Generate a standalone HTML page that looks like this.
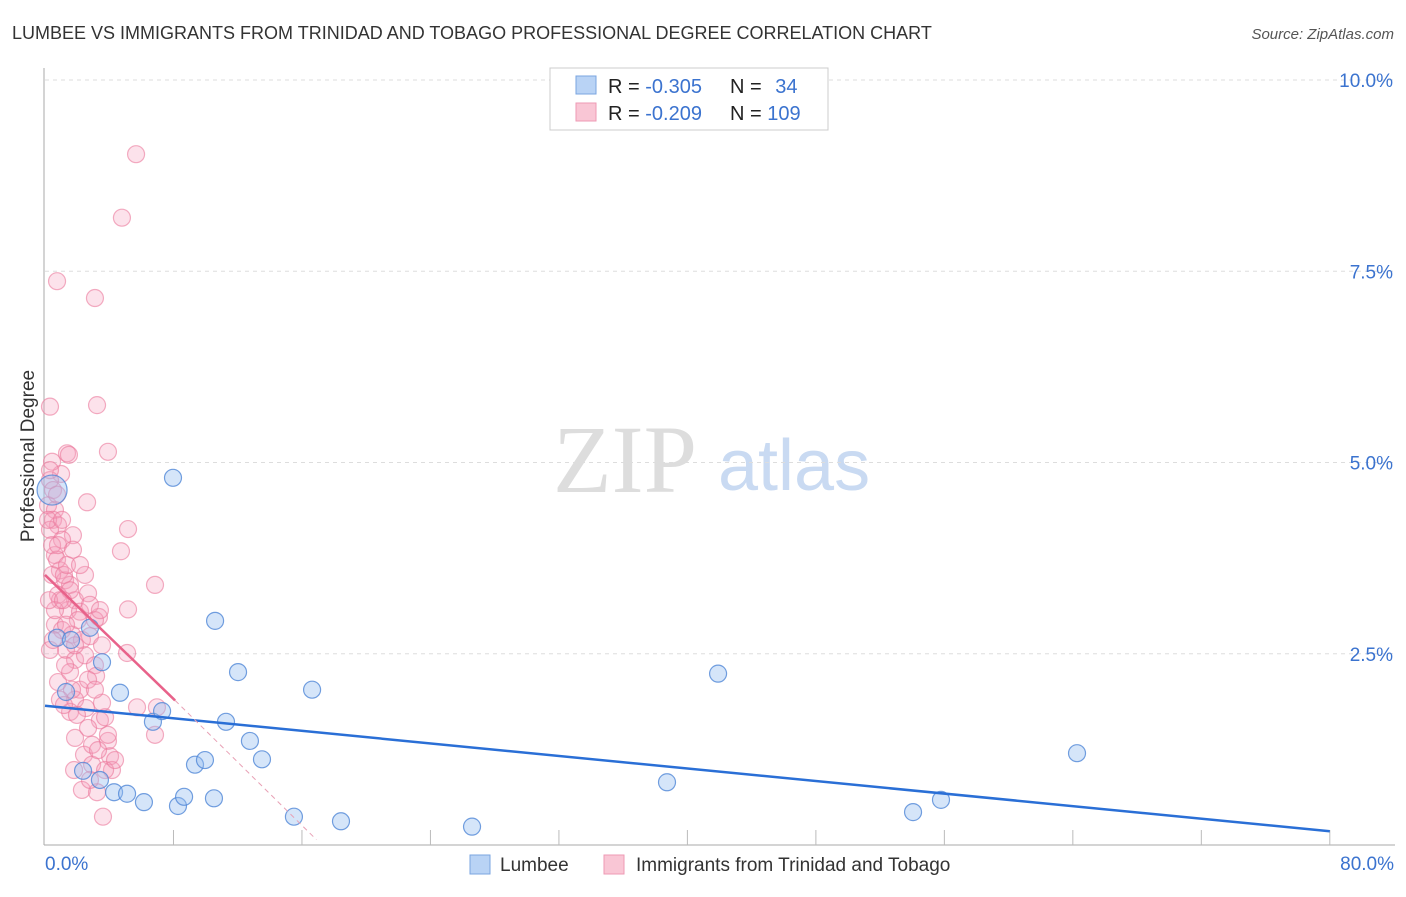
<!DOCTYPE html>
<html><head><meta charset="utf-8"><style>
body{margin:0;background:#fff;font-family:"Liberation Sans",sans-serif;}
</style></head><body>
<svg width="1406" height="892" xmlns="http://www.w3.org/2000/svg" font-family="Liberation Sans, sans-serif">
<text x="12" y="39" font-size="18" fill="#333">LUMBEE VS IMMIGRANTS FROM TRINIDAD AND TOBAGO PROFESSIONAL DEGREE CORRELATION CHART</text>
<text x="1394" y="39" font-size="15" fill="#555" font-style="italic" text-anchor="end">Source: ZipAtlas.com</text>
<g>
<text x="553" y="492" font-size="96" fill="#ddd" font-family="Liberation Serif, serif">ZIP</text>
<text x="718" y="490" font-size="72" fill="#c9daf2">atlas</text>
</g>
<g id="grid"></g>
<g id="axes"></g>
<g id="pts"></g>
<g id="lines"></g>
<text transform="translate(34,456) rotate(-90)" font-size="19" fill="#333" text-anchor="middle">Professional Degree</text>
<g>
<rect x="550" y="68" width="278" height="62" fill="#fff" stroke="#ccc"/>
<rect x="576" y="76" width="20" height="18" fill="#b9d3f5" stroke="#7aa5e0"/>
<rect x="576" y="103" width="20" height="18" fill="#f9c6d5" stroke="#ee9ab4"/>
<text x="608" y="93" font-size="20" fill="#222">R = <tspan fill="#3b73cf">-0.305</tspan></text>
<text x="730" y="93" font-size="20" fill="#222">N = <tspan fill="#3b73cf" dx="8">34</tspan></text>
<text x="608" y="120" font-size="20" fill="#222">R = <tspan fill="#3b73cf">-0.209</tspan></text>
<text x="730" y="120" font-size="20" fill="#222">N = <tspan fill="#3b73cf">109</tspan></text>
</g>
<g>
<rect x="470" y="855" width="20" height="19" fill="#b9d3f5" stroke="#7aa5e0"/>
<text x="500" y="871" font-size="19" fill="#333">Lumbee</text>
<rect x="604" y="855" width="20" height="19" fill="#f9c6d5" stroke="#ee9ab4"/>
<text x="636" y="871" font-size="19" fill="#333">Immigrants from Trinidad and Tobago</text>
</g>
</svg>
<script>
const NS="http://www.w3.org/2000/svg";
const yTicks=[2.5,5.0,7.5,10.0];
const yTickLabels=["2.5%","5.0%","7.5%","10.0%"];
const xTicks=[8,16,24,32,40,48,56,64,72,80];
const xLabels=["0.0%","80.0%"];
const blueX=[7.97,10.59,12.02,16.63,41.91,64.26,3.55,4.67,2.80,0.75,1.31,6.72,7.29,11.27,12.76,9.34,9.96,13.51,2.37,3.42,4.30,5.11,6.16,8.28,8.66,10.52,15.50,18.43,26.59,38.73,54.05,55.79,0.44,1.62];
const blueY=[4.80,2.93,2.26,2.03,2.24,1.20,2.39,1.99,2.84,2.71,2.00,1.61,1.75,1.61,1.36,1.05,1.11,1.12,0.97,0.85,0.69,0.67,0.56,0.51,0.63,0.61,0.37,0.31,0.24,0.82,0.43,0.59,4.64,2.68];
const pinkX=[5.67,4.79,0.75,3.11,0.31,3.24,1.37,3.92,1.0,1.49,2.62,5.17,1.74,4.73,6.85,5.17,3.36,5.11,5.73,6.97,6.85,0.44,0.31,0.5,0.19,0.62,0.5,0.81,0.31,1.06,0.62,0.93,1.25,0.44,1.56,0.81,1.87,1.43,2.18,2.68,2.80,0.62,1.06,1.68,2.30,2.80,1.31,1.87,2.49,3.11,3.55,0.81,1.56,2.18,3.18,1.87,2.55,3.55,1.56,3.42,3.74,1.87,2.68,3.92,2.43,4.05,4.17,1.81,2.93,2.30,3.24,3.61,2.80,0.19,0.44,0.75,0.93,1.18,2.05,0.62,1.25,1.68,0.31,0.93,1.56,2.49,3.11,3.42,1.31,1.87,2.68,0.81,1.06,0.25,0.5,1.18,1.99,2.93,3.74,1.37,2.18,1.74,0.75,0.31,3.11,3.92,4.36,3.30,1.12];
const pinkY=[9.03,8.20,7.37,7.15,5.73,5.75,5.12,5.14,4.85,5.10,4.48,4.13,4.05,3.84,3.40,3.08,2.98,2.51,1.80,1.80,1.44,5.01,4.77,4.64,4.44,4.38,4.25,4.18,4.12,3.99,3.79,3.59,3.46,3.53,3.40,3.27,3.20,3.07,3.05,3.29,3.14,2.88,2.81,2.75,2.68,2.73,2.55,2.42,2.48,2.35,2.61,2.13,2.26,2.03,2.21,1.90,1.79,1.86,1.74,1.63,1.67,1.40,1.53,1.36,1.18,1.16,0.98,0.98,1.05,0.72,0.69,0.37,0.85,4.25,3.92,3.73,3.20,3.53,2.94,3.07,2.35,2.03,2.55,1.90,3.33,3.53,2.94,3.07,2.88,2.61,2.16,3.92,4.25,3.20,2.68,1.83,1.70,1.31,0.98,3.66,3.66,3.86,4.58,4.90,2.03,1.44,1.11,1.24,3.20];
const blueTrend=[[0,1.82],[80,0.18]];
const pinkTrend=[[0,3.53],[8.1,1.89]];
const pinkTrendExt=[[8.1,1.89],[16.9,0.07]];
const X=v=>45+v*16.06, Y=v=>845-v*76.5;
function mk(tag,attrs,parent){const e=document.createElementNS(NS,tag);for(const k in attrs)e.setAttribute(k,attrs[k]);document.getElementById(parent).appendChild(e);return e;}
yTicks.forEach((t,i)=>{
 const g=mk('line',{x1:45,x2:1395,y1:Y(t),y2:Y(t),stroke:'#ddd','stroke-dasharray':'4,4'},'grid');
 
 
 const l=mk('text',{x:1393,y:Y(t)+7,'font-size':19,fill:'#3b73cf','text-anchor':'end'},'grid');
 l.textContent=yTickLabels[i];
 
 
});
const ax=mk('line',{x1:44,x2:44,y1:68,y2:845,stroke:'#aaa'},'axes');


const bx=mk('line',{x1:44,x2:1395,y1:845,y2:845,stroke:'#aaa'},'axes');


xTicks.forEach(t=>{
 const k=mk('line',{x1:X(t),x2:X(t),y1:830,y2:845,stroke:'#bbb'},'axes');
 
 
});
[[0,'start',45],[80,'end',1394]].forEach((d,i)=>{
 const l=mk('text',{x:d[2],y:870,'font-size':19,fill:'#3b73cf','text-anchor':d[1]},'axes');
 l.textContent=xLabels[i];
 
 
});
pinkX.forEach((x,i)=>{
 const c=mk('circle',{cx:X(x),cy:Y(pinkY[i]),r:8.5,fill:'rgba(246,160,188,0.3)',stroke:'rgba(235,120,155,0.6)','stroke-width':1.2},'pts');
 
 
});
blueX.forEach((x,i)=>{
 const c=mk('circle',{cx:X(x),cy:Y(blueY[i]),r:(i==32?15:8.5),fill:'rgba(150,190,240,0.4)',stroke:'rgba(80,135,215,0.8)','stroke-width':1.2},'pts');
 
 
});
const bl=mk('line',{x1:X(blueTrend[0][0]),y1:Y(blueTrend[0][1]),x2:X(blueTrend[1][0]),y2:Y(blueTrend[1][1]),stroke:'#2a6fd6','stroke-width':2.5},'lines');


const pl=mk('line',{x1:X(pinkTrend[0][0]),y1:Y(pinkTrend[0][1]),x2:X(pinkTrend[1][0]),y2:Y(pinkTrend[1][1]),stroke:'#e8628a','stroke-width':2.5},'lines');


const pe=mk('line',{x1:X(pinkTrendExt[0][0]),y1:Y(pinkTrendExt[0][1]),x2:X(pinkTrendExt[1][0]),y2:Y(pinkTrendExt[1][1]),stroke:'#e8a0b5','stroke-width':1,'stroke-dasharray':'5,4'},'lines');


</script>
</body></html>
